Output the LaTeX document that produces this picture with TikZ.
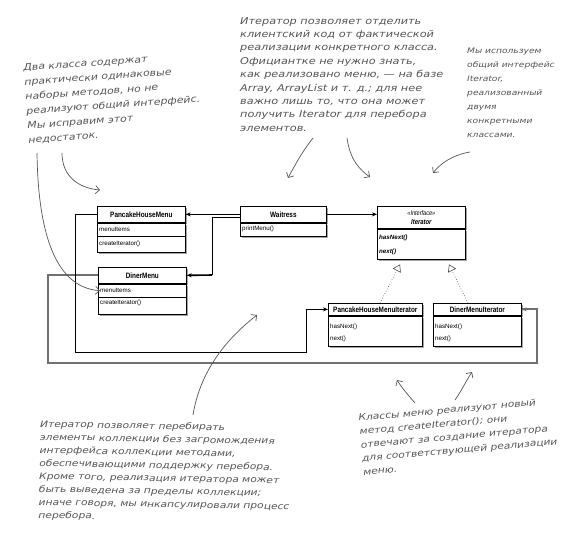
\documentclass[tikz,border=0pt]{standalone}
\usepackage{fontspec}
\setmainfont{Liberation Sans}
\newfontfamily\umlfont[FakeStretch=0.82]{Liberation Sans}
\newfontfamily\memfont{Liberation Sans}
\newfontfamily\handfont[FakeStretch=1.2]{DejaVu Sans}
\usetikzlibrary{arrows.meta,calc,shadows}
\definecolor{hand}{HTML}{555555}
\definecolor{linkgray}{HTML}{707070}
\begin{document}
\begin{tikzpicture}[x=1pt,y=-1pt,
  cls/.style={draw=black, line width=0.7pt, fill=white, inner sep=0pt, anchor=north west,
    drop shadow={shadow xshift=2pt, shadow yshift=-2pt, fill=black, opacity=0.35}},
  clsname/.style={font=\umlfont\bfseries\fontsize{7.8}{8}\selectfont},
  member/.style={font=\memfont\fontsize{6.2}{7}\selectfont, anchor=west, inner sep=0pt},
  imember/.style={member, font=\memfont\bfseries\itshape\fontsize{6.2}{7}\selectfont},
  conn/.style={draw=black, line width=0.7pt},
  tipa/.style={-{Stealth[length=5pt,width=4pt]}},
  realize/.style={draw=black!70, line width=0.6pt, dotted, -{Triangle[open,length=7pt,width=9pt,line width=0.6pt]}},
  note/.style={text=hand, align=left, anchor=north west, inner sep=0pt},
  handarrow/.style={draw=hand, line width=0.7pt, -{Straight Barb[length=4pt,width=8pt]}}
]
\useasboundingbox (0,0) rectangle (585,546);
\fill[white] (0,0) rectangle (585,546);

% corner coordinates of the connectors
\coordinate (c1) at (75,352);
\coordinate (c2) at (306,352);
\coordinate (d1) at (48,363);
\coordinate (d2) at (537,363);

% long connector behind the boxes
\draw[draw=linkgray, line width=1.1pt] (98,275) -| (d1) -- (d2) |- (521,309);

% PancakeHouseMenu
\node[cls, clsname, minimum width=88pt, minimum height=16pt] (phmh) at (97,206) {PancakeHouseMenu};
\node[cls, minimum width=88pt, minimum height=29pt] (phmb) at (phmh.south west) {};
\draw[line width=0.6pt] ($(phmb.north west)+(0,14)$) -- ($(phmb.north east)+(0,14)$);
\node[member] (phm1) at ($(phmb.north west)+(2,7)$) {menuItems};
\node[member] (phm2) at ($(phmb.north west)+(2,21)$) {createIterator()};

% Waitress
\node[cls, clsname, minimum width=86pt, minimum height=16pt] (wth) at (240,206) {Waitress};
\node[cls, minimum width=86pt, minimum height=13pt] (wtb) at (wth.south west) {};
\node[member] (wt1) at ($(wtb.north west)+(2,6.5)$) {printMenu()};

% DinerMenu
\node[cls, clsname, minimum width=88pt, minimum height=16pt] (dmh) at (98,267) {DinerMenu};
\node[cls, minimum width=88pt, minimum height=30pt] (dmb) at (dmh.south west) {};
\draw[line width=0.6pt] ($(dmb.north west)+(0,14)$) -- ($(dmb.north east)+(0,14)$);
\node[member] (dm1) at ($(dmb.north west)+(2,7)$) {menuItems};
\node[member] (dm2) at ($(dmb.north west)+(2,19)$) {createIterator()};

% Iterator interface
\node[cls, minimum width=88pt, minimum height=22pt, align=center,
  font=\umlfont\bfseries\itshape\fontsize{7.2}{8.5}\selectfont] (ith) at (377,206)
  {{\mdseries\fontsize{6.8}{7}\selectfont «Interface»}\\Iterator};
\node[cls, minimum width=88pt, minimum height=30pt] (itb) at (ith.south west) {};
\node[imember] (it1) at ($(itb.north west)+(2,9)$) {hasNext()};
\node[imember] (it2) at ($(itb.north west)+(2,23)$) {next()};

% PancakeHouseMenuIterator
\node[cls, clsname, minimum width=94pt, minimum height=12pt] (pmih) at (328,303) {PancakeHouseMenuIterator};
\node[cls, minimum width=94pt, minimum height=30pt] (pmib) at (pmih.south west) {};
\node[member] (pmi1) at ($(pmib.north west)+(2,11)$) {hasNext()};
\node[member] (pmi2) at ($(pmib.north west)+(2,23)$) {next()};

% DinerMenuIterator
\node[cls, clsname, minimum width=88pt, minimum height=12pt] (dmih) at (433,303) {DinerMenuIterator};
\node[cls, minimum width=88pt, minimum height=30pt] (dmib) at (dmih.south west) {};
\node[member] (dmi1) at ($(dmib.north west)+(2,11)$) {hasNext()};
\node[member] (dmi2) at ($(dmib.north west)+(2,23)$) {next()};

% connectors
\draw[draw=linkgray, line width=1.1pt, tipa] (d2) |- (dmih.east);
\draw[conn, tipa] (wth.west) -- (phmh.east);
\draw[conn, tipa] (wth.east) -- (ith.west |- wth.east);
\draw[conn] ($(wth.west)+(0,2.5)$) -| (212,275);
\draw[conn, line width=1.6pt, tipa] (212,275) -- (dmh.east);
\draw[conn, tipa] (phmh.west) -| (c1) -- (c2) |- (pmih.west);
\draw[realize] ($(pmih.north west)+(52,0)$) -- ($(itb.south west)+(23,5)$);
\draw[realize] ($(dmih.north west)+(35,0)$) -- ($(itb.south west)+(72,5)$);

% annotations
\node[note, rotate=4, font=\handfont\itshape\fontsize{9.1}{14.5}\selectfont] (n1) at (23,64) {Два класса содержат\\практически одинаковые\\наборы методов, но не\\реализуют общий интерфейс.\\Мы исправим этот\\недостаток.};
\node[note, font=\handfont\itshape\fontsize{9.4}{13.4}\selectfont] (n2) at (240,17) {Итератор позволяет отделить\\клиентский код от фактической\\реализации конкретного класса.\\Официантке не нужно знать,\\как реализовано меню, — на базе\\Array, ArrayList и т. д.; для нее\\важно лишь то, что она может\\получить Iterator для перебора\\элементов.};
\node[note, font=\handfont\itshape\fontsize{7.6}{14}\selectfont] (n3) at (467,48) {Мы используем\\общий интерфейс\\Iterator,\\реализованный\\двумя\\конкретными\\классами.};
\node[note, rotate=-1, font=\handfont\itshape\fontsize{8.9}{13}\selectfont] (n4) at (40,420) {Итератор позволяет перебирать\\элементы коллекции без загромождения\\интерфейса коллекции методами,\\обеспечивающими поддержку перебора.\\Кроме того, реализация итератора может\\быть выведена за пределы коллекции;\\иначе говоря, мы инкапсулировали процесс\\перебора.};
\node[note, rotate=5, font=\handfont\itshape\fontsize{8.9}{13.6}\selectfont] (n5) at (358,414) {Классы меню реализуют новый\\метод createIterator(); они\\отвечают за создание итератора\\для соответствующей реализации\\меню.};

% hand-drawn arrows
\draw[handarrow] (37,153) .. controls (38,225) and (52,287) .. (dm1.west);
\draw[handarrow] (62,153) .. controls (62,176) and (78,188) .. (100,190);
\draw[handarrow] (313,138) .. controls (302,152) and (295,165) .. (288,178);
\draw[handarrow] (347,138) .. controls (350,160) and (360,170) .. (370,177);
\draw[handarrow] (470,152) .. controls (452,155) and (440,164) .. (433,173);
\draw[handarrow] (193,415) .. controls (200,372) and (225,340) .. (257,315);
\draw[handarrow] (415,403) .. controls (408,395) and (402,388) .. (397,380);
\draw[handarrow] (455,400) .. controls (462,390) and (466,381) .. (472,372);
\end{tikzpicture}
\end{document}
